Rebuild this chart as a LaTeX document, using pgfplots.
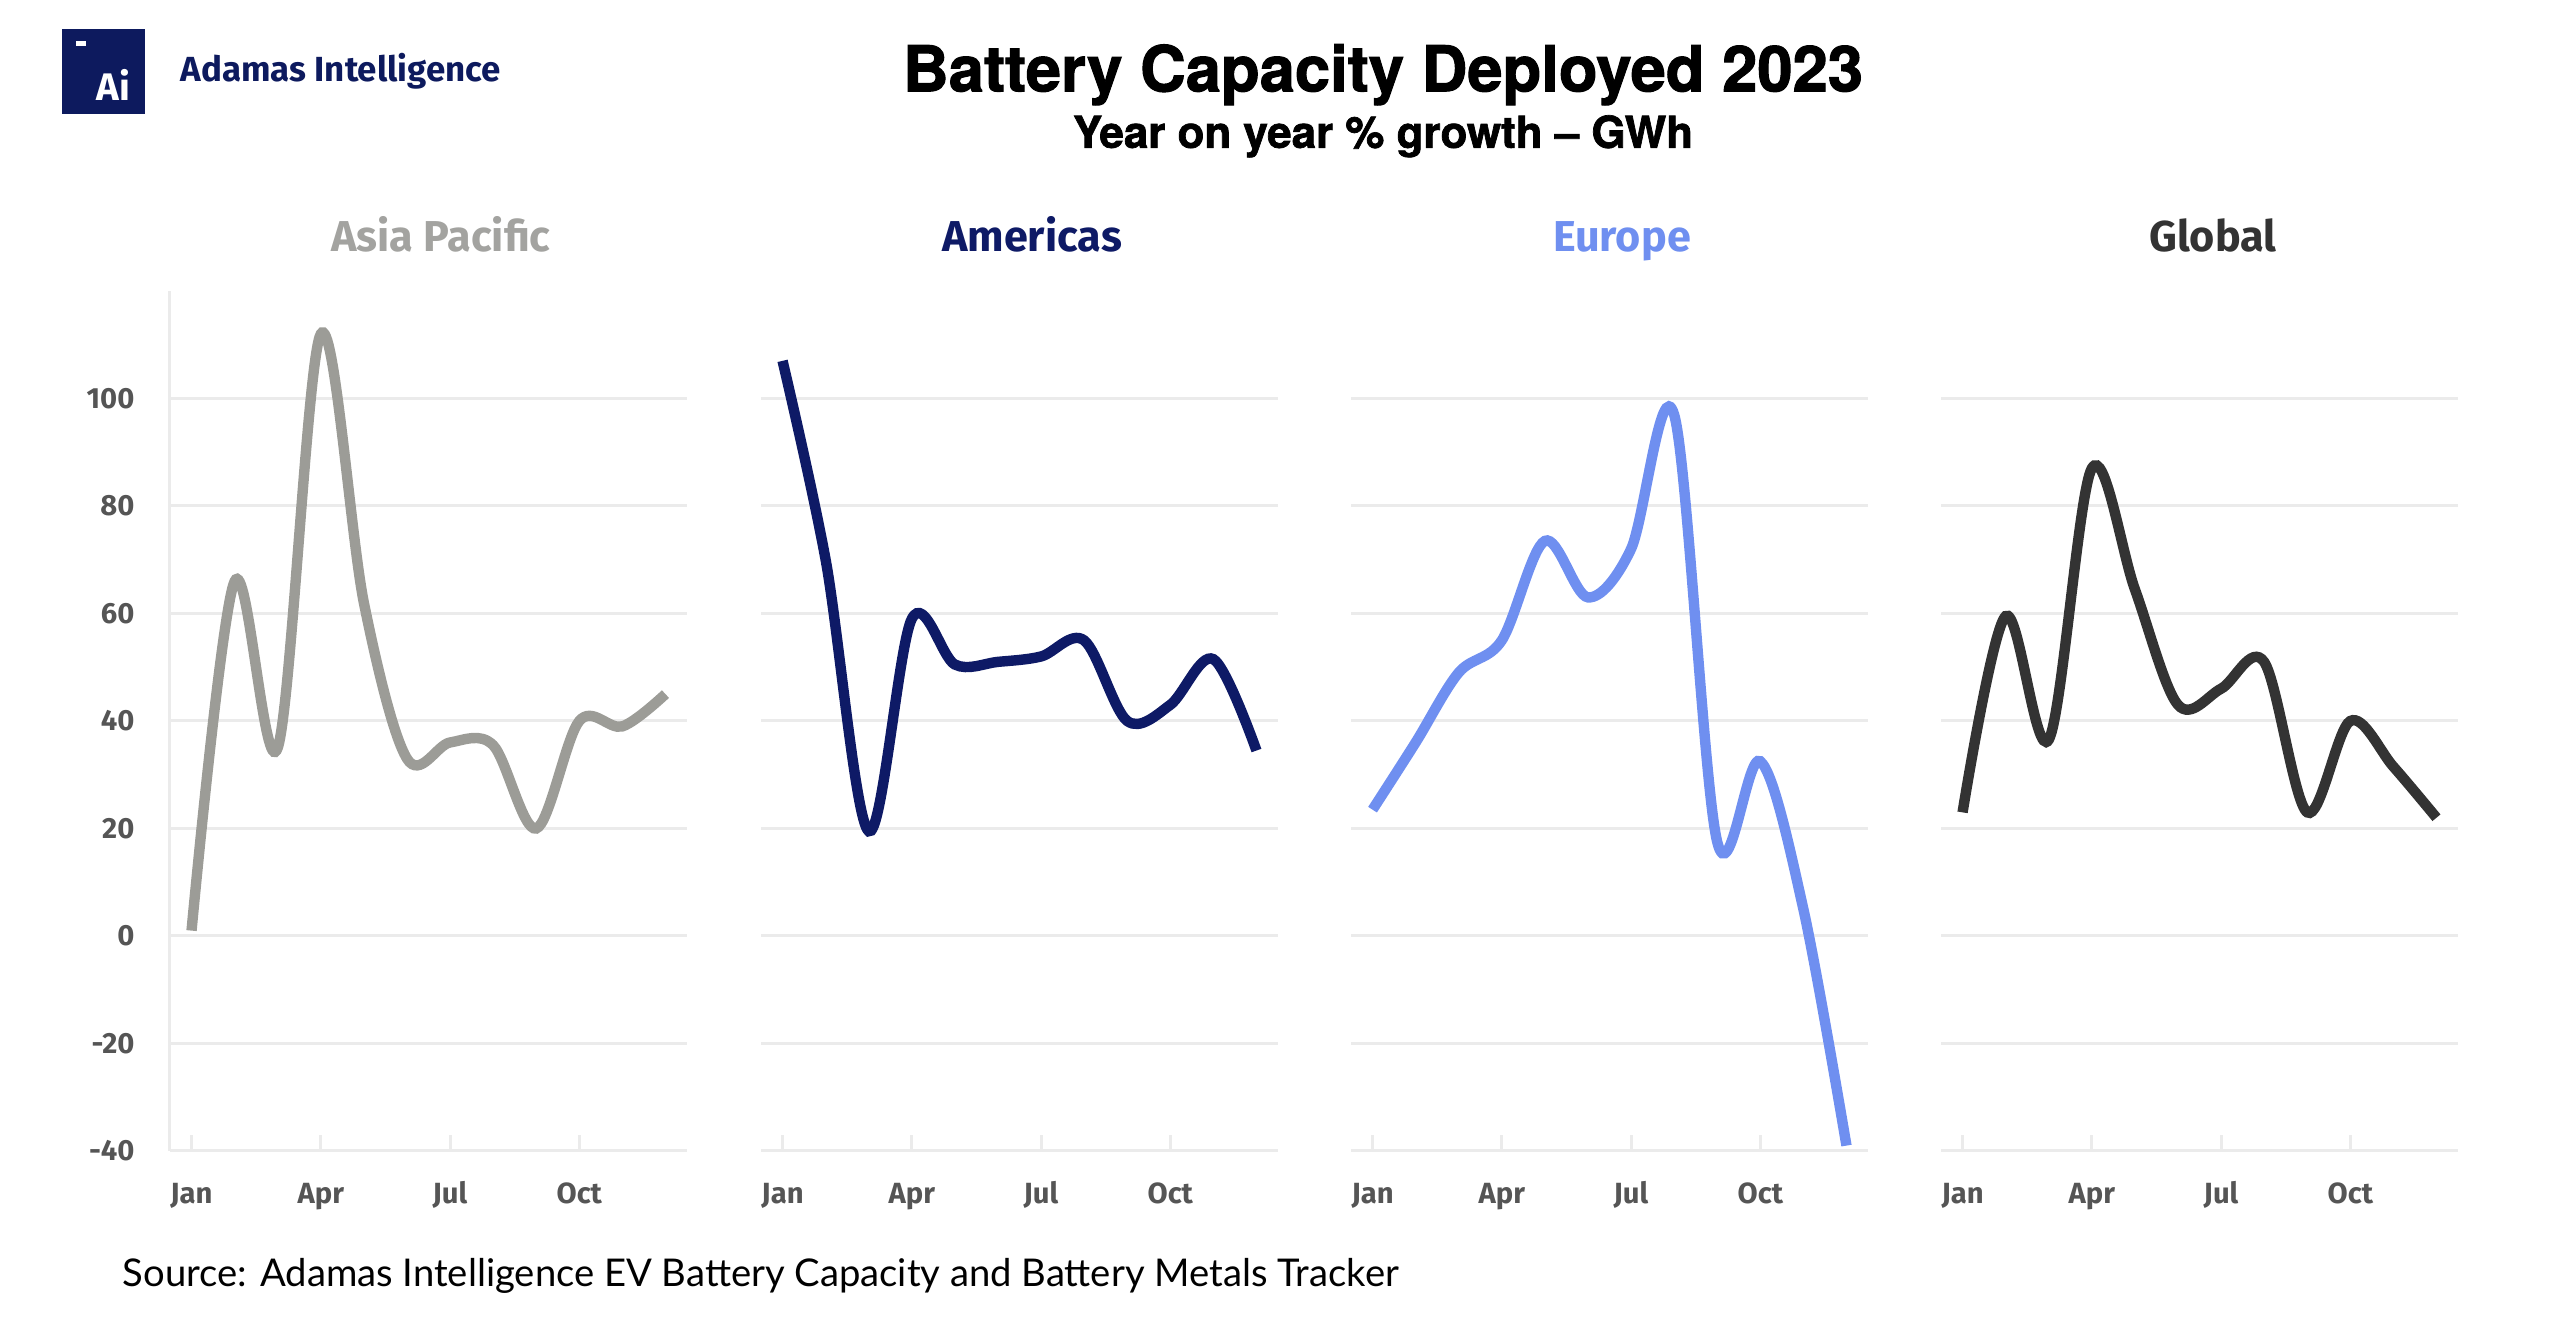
\documentclass[border=0pt]{standalone}
\usepackage{fontspec}
\setmainfont{Fira Sans}
\newfontfamily\heros{TeX Gyre Heros}[BoldFeatures={FakeBold=1.6}]
\newfontfamily\lato{Lato}
\usepackage{pgfplots}
\pgfplotsset{compat=1.18}
\definecolor{gridc}{HTML}{EBEBEB}
\definecolor{tickc}{HTML}{555555}
\definecolor{apc}{HTML}{9C9C97}
\definecolor{apt}{HTML}{A3A3A0}
\definecolor{amc}{HTML}{0E1A66}
\definecolor{euc}{HTML}{6F8FF0}
\definecolor{glc}{HTML}{333333}
\definecolor{navy}{HTML}{0D1A5E}
\pgfplotsset{panel/.style={
  anchor=south west, scale only axis, width=129.25pt, height=215pt,
  xmin=-0.5, xmax=11.5, ymin=-40, ymax=120,
  axis line style={draw=none},
  xtick={0,3,6,9}, xticklabels={Jan,Apr,Jul,Oct},
  ytick={-40,-20,...,100},
  xtick pos=bottom, ytick pos=left,
  tick align=inside,
  major tick length=4pt,
  xtick style={gridc, line width=0.75pt},
  ymajorgrids, grid style={gridc, line width=0.75pt},
  xticklabel style={font=\bfseries\fontsize{7.3}{8}\selectfont, text=tickc, anchor=base, inner sep=0pt, yshift=-13.25pt},
  yticklabel style={font=\bfseries\fontsize{7.3}{8}\selectfont, text=tickc, anchor=east, inner sep=0pt, xshift=-8.7pt},
  /pgf/number format/assume math mode=true,
  ytick style={draw=none}, yticklabels={},
  clip=false,
},
series/.style={line width=2.6pt, smooth, tension=0.55}}
\begin{document}
\begin{tikzpicture}
\useasboundingbox (0,0) rectangle (640pt,331.25pt);
% logo
\fill[navy] (15.5pt,302.75pt) rectangle (36.25pt,324pt);
\fill[white] (18.9pt,319.75pt) rectangle (21.5pt,320.9pt);
\node[anchor=base, text=white, inner sep=0pt, font=\bfseries\fontsize{9.6}{10}\selectfont] at (28.4pt,306.2pt) {Ai};
\node[anchor=base west, inner sep=0pt] at (45pt,310.9pt) {\resizebox{80pt}{!}{\color{navy}\bfseries Adamas Intelligence}};
% titles
\node[anchor=base, inner sep=0pt] at (345.75pt,308.4pt) {\resizebox{240pt}{!}{\heros\bfseries Battery Capacity Deployed 2023}};
\node[anchor=base, inner sep=0pt] at (345.75pt,294.3pt) {\resizebox{155pt}{!}{\heros\bfseries Year on year \% growth – GWh}};
% source
\node[anchor=base west, inner sep=0pt] at (30.5pt,9.5pt) {\resizebox{319pt}{!}{\lato Source: Adamas Intelligence EV Battery Capacity and Battery Metals Tracker}};
% panel titles
\node[anchor=base, text=apt, inner sep=0pt, font=\bfseries\fontsize{10.8}{12}\selectfont] at (110.25pt,268.4pt) {Asia Pacific};
\node[anchor=base, text=amc, inner sep=0pt, font=\bfseries\fontsize{10.8}{12}\selectfont] at (258pt,268.4pt) {Americas};
\node[anchor=base, text=euc, inner sep=0pt, font=\bfseries\fontsize{10.8}{12}\selectfont] at (405.5pt,268.4pt) {Europe};
\node[anchor=base, text=glc, inner sep=0pt, font=\bfseries\fontsize{10.8}{12}\selectfont] at (553.25pt,268.4pt) {Global};

\begin{axis}[panel, at={(42.5pt,43.5pt)},
  ytick style={gridc, line width=0.75pt, xshift=-4pt},
  yticklabels={-40,-20,0,20,40,60,80,100}]
\draw[gridc, line width=0.75pt] (axis cs:-0.5,-40) -- (axis cs:-0.5,120);
\addplot[series, apc] coordinates {(0,1)(1,66)(2,35)(3,112)(4,62)(5,33)(6,36)(7,35.5)(8,20)(9,40)(10,39)(11,45)};
\end{axis}

\begin{axis}[panel, at={(190.25pt,43.5pt)}]
\addplot[series, amc] coordinates {(0,107)(1,70)(2,19.5)(3,59)(4,50.5)(5,51)(6,52)(7,55)(8,40)(9,43)(10,51.5)(11,34.5)};
\end{axis}

\begin{axis}[panel, at={(337.75pt,43.5pt)}]
\addplot[series, euc] coordinates {(0,23.5)(1,36)(2,49)(3,55)(4,73.5)(5,63)(6,72)(7,97)(8,17.5)(9,32.5)(10,5)(11,-39)};
\end{axis}

\begin{axis}[panel, at={(485.25pt,43.5pt)}]
\addplot[series, glc] coordinates {(0,23)(1,59.5)(2,36.5)(3,87)(4,64.5)(5,43)(6,46)(7,51)(8,23)(9,40)(10,31.5)(11,22)};
\end{axis}
\end{tikzpicture}
\end{document}
